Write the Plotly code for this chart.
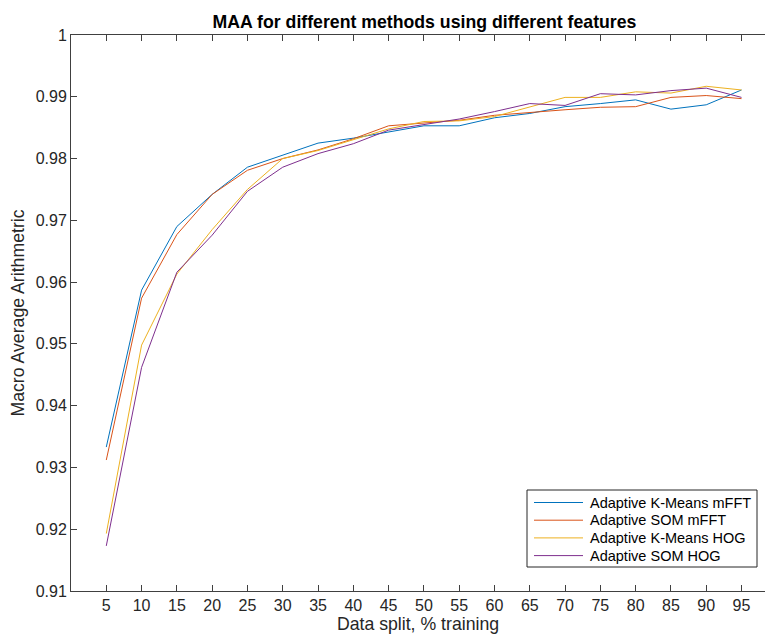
import plotly.graph_objects as go

split = [5, 10, 15, 20, 25, 30, 35, 40, 45, 50, 55, 60, 65, 70, 75, 80, 85, 90, 95]

km_mfft = [0.9333, 0.9587, 0.9690, 0.9742, 0.9786, 0.9805, 0.9825, 0.9833, 0.9843, 0.9853,
           0.9853, 0.9866, 0.9873, 0.9884, 0.9889, 0.9895, 0.9880, 0.9887, 0.9911]
som_mfft = [0.9312, 0.9574, 0.9677, 0.9742, 0.9781, 0.9800, 0.9814, 0.9832, 0.9853, 0.9857,
            0.9862, 0.9870, 0.9875, 0.9879, 0.9883, 0.9884, 0.9899, 0.9902, 0.9897]
km_hog = [0.9193, 0.9498, 0.9613, 0.9685, 0.9750, 0.9800, 0.9813, 0.9831, 0.9848, 0.9860,
          0.9861, 0.9868, 0.9883, 0.9899, 0.9899, 0.9908, 0.9906, 0.9917, 0.9911]
som_hog = [0.9173, 0.9462, 0.9616, 0.9676, 0.9747, 0.9786, 0.9808, 0.9824, 0.9846, 0.9855,
           0.9864, 0.9876, 0.9889, 0.9886, 0.9905, 0.9903, 0.9910, 0.9914, 0.9899]

names = ["Adaptive K-Means mFFT", "Adaptive SOM mFFT", "Adaptive K-Means HOG", "Adaptive SOM HOG"]
colors = ["#0072BD", "#D95319", "#EDB120", "#7E2F8E"]

x_ticks = split
y_ticks = [0.91, 0.92, 0.93, 0.94, 0.95, 0.96, 0.97, 0.98, 0.99, 1.0]
y_tick_text = ["0.91", "0.92", "0.93", "0.94", "0.95", "0.96", "0.97", "0.98", "0.99", "1"]

W, H = 765, 639
L, R, T, B = 71, 0, 35, 48
plot_w = W - L - R
plot_h = H - T - B


def px_x(px):
    return (px - L) / plot_w


def px_y(py):
    return (T + plot_h - py) / plot_h


fig = go.Figure()
for series, name, color in zip([km_mfft, som_mfft, km_hog, som_hog], names, colors):
    fig.add_trace(go.Scatter(x=split, y=series, mode="lines", name=name,
                             line=dict(color=color, width=1), showlegend=False))

font_family = "Liberation Sans, Arial, Helvetica, sans-serif"
axis_color = "#404040"

# custom legend box (MATLAB style, compact rows)
leg_left, leg_right, leg_top, leg_bottom = 527, 757, 490, 567
row_h = 17.7
first_row = 502.5
shapes = [dict(type="rect", xref="paper", yref="paper",
               x0=px_x(leg_left), x1=px_x(leg_right), y0=px_y(leg_bottom), y1=px_y(leg_top),
               line=dict(color="#262626", width=1), fillcolor="white", layer="above")]
annotations = []
for i, (name, color) in enumerate(zip(names, colors)):
    yc = first_row + i * row_h
    shapes.append(dict(type="line", xref="paper", yref="paper",
                       x0=px_x(534), x1=px_x(583), y0=px_y(yc), y1=px_y(yc),
                       line=dict(color=color, width=1), layer="above"))
    annotations.append(dict(text=name, xref="paper", yref="paper",
                            x=px_x(588), y=px_y(yc), xanchor="left", yanchor="middle",
                            showarrow=False, font=dict(size=14.5, color="#000000")))

fig.update_layout(
    width=W, height=H,
    margin=dict(l=L, r=R, t=T, b=B, pad=0),
    paper_bgcolor="white", plot_bgcolor="white",
    font=dict(family=font_family, color="#262626"),
    title=dict(text="<b>MAA for different methods using different features</b>",
               font=dict(size=17.7, color="#000000"),
               x=px_x(424.5), xref="paper", xanchor="center",
               y=1 - 22 / H, yref="container", yanchor="middle"),
    xaxis=dict(range=[0, (W - L) / 7.058], tickvals=x_ticks,
               ticks="inside", ticklen=6, tickcolor=axis_color, tickwidth=1,
               showline=True, linecolor=axis_color, linewidth=1, mirror="ticks",
               showgrid=False, zeroline=False,
               tickfont=dict(size=16, color="#262626"),
               title=dict(text="Data split, % training", font=dict(size=17.7, color="#262626"),
                          standoff=3)),
    yaxis=dict(range=[0.91, 1.0], tickvals=y_ticks, ticktext=y_tick_text,
               ticks="inside", ticklen=6, tickcolor=axis_color, tickwidth=1,
               showline=True, linecolor=axis_color, linewidth=1, mirror=False,
               showgrid=False, zeroline=False,
               tickfont=dict(size=16, color="#262626"),
               title=dict(text="Macro Average Arithmetric", font=dict(size=17.7, color="#262626"),
                          standoff=6)),
    shapes=shapes,
    annotations=annotations,
    showlegend=False,
)

fig.write_html("out.html")
